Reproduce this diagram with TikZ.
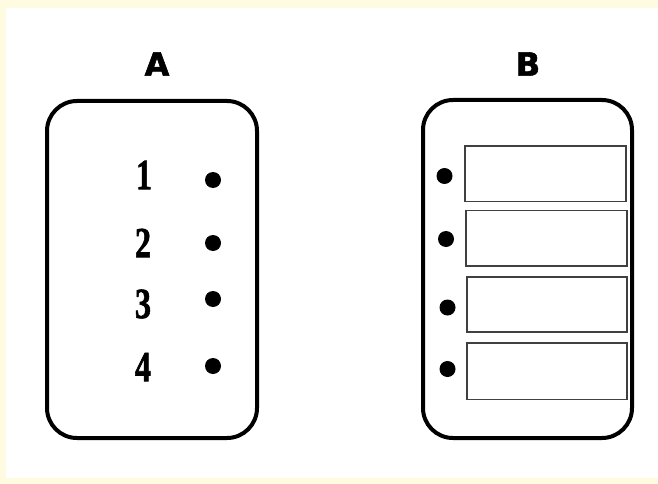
\documentclass[tikz,border=0pt]{standalone}
\usepackage{fontspec}
\setmainfont{Liberation Serif}
\newfontfamily\heavyserif[FakeBold=1.6]{Liberation Serif Bold}
\newfontfamily\heavysans[FakeBold=1.8]{DejaVu Sans Bold}
\definecolor{cream}{HTML}{FFFBE0}
\begin{document}
\begin{tikzpicture}[x=1pt,y=-1pt,
  outerbox/.style={draw=black,line width=4pt,rounded corners=30pt},
  slot/.style={draw=black!75,line width=1.7pt},
  dotmark/.style={circle,fill=black,inner sep=0pt,minimum size=16pt},
  digit/.style={inner sep=0pt,font=\heavyserif\fontsize{43}{43}\selectfont},
  title/.style={inner sep=0pt,font=\heavysans\fontsize{32}{32}\selectfont}]
\fill[cream] (0,0) rectangle (658,484);
\fill[white] (6,8) rectangle (658,478);
\useasboundingbox (0,0) rectangle (658,484);
% titles
\node[title] (tA) at (157,64) {A};
\node[title] (tB) at (528,64) {B};
% box A
\draw[outerbox] (47,101) rectangle (257,438);
\node[digit] (n1) at (144,175) {\scalebox{0.75}[1]{1}};
\node[digit] (n2) at (143,243) {\scalebox{0.75}[1]{2}};
\node[digit] (n3) at (143,304) {\scalebox{0.75}[1]{3}};
\node[digit] (n4) at (143,367) {\scalebox{0.75}[1]{4}};
\node[dotmark] (a1) at (213,180) {};
\node[dotmark] (a2) at (213,243) {};
\node[dotmark] (a3) at (213,299) {};
\node[dotmark] (a4) at (213,366) {};
% box B
\draw[outerbox] (423,100) rectangle (632,438);
\draw[slot] (465,146) rectangle (626,201.5);
\draw[slot] (466,210.5) rectangle (627,266);
\draw[slot] (467,277) rectangle (627,332);
\draw[slot] (467,343) rectangle (627,399.5);
\node[dotmark] (b1) at (444.5,176) {};
\node[dotmark] (b2) at (446,239) {};
\node[dotmark] (b3) at (447.5,307.5) {};
\node[dotmark] (b4) at (447.5,369) {};
\end{tikzpicture}
\end{document}
